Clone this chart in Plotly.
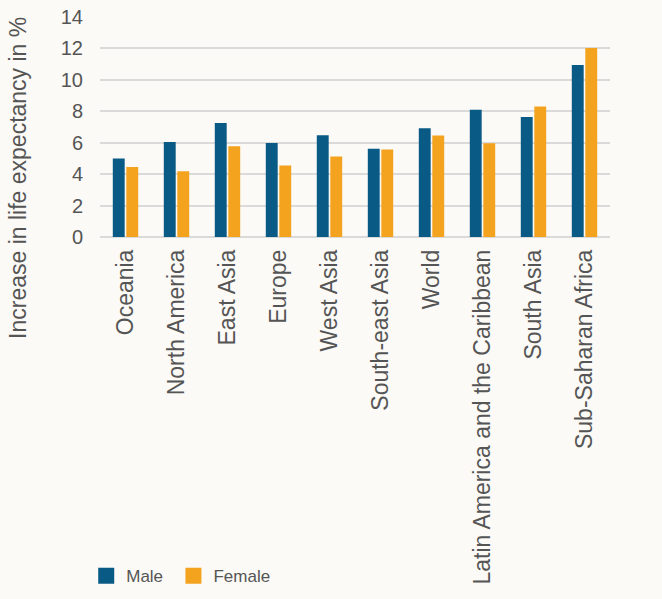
import plotly.graph_objects as go

categories = ["Oceania", "North America", "East Asia", "Europe", "West Asia",
              "South-east Asia", "World", "Latin America and the Caribbean",
              "South Asia", "Sub-Saharan Africa"]
male = [5.0, 6.05, 7.25, 5.98, 6.48, 5.62, 6.92, 8.09, 7.64, 10.95]
female = [4.45, 4.18, 5.78, 4.55, 5.13, 5.57, 6.46, 5.97, 8.30, 12.02]
y_ticks = [0, 2, 4, 6, 8, 10, 12, 14]

BLUE = "#0a5a86"
ORANGE = "#f4a31f"
BG = "#fbfaf6"
TXT = "#555555"
FONT = "Liberation Sans, Arial, sans-serif"

fig = go.Figure()
fig.add_trace(go.Bar(name="Male", x=categories, y=male, marker_color=BLUE,
                     marker_line_width=0, showlegend=False))
fig.add_trace(go.Bar(name="Female", x=categories, y=female, marker_color=ORANGE,
                     marker_line_width=0, showlegend=False))
# legend entries (square swatches)
fig.add_trace(go.Scatter(name="Male", x=[None], y=[None], mode="markers",
                         marker=dict(symbol="square", size=16, color=BLUE),
                         legend="legend"))
fig.add_trace(go.Scatter(name="Female", x=[None], y=[None], mode="markers",
                         marker=dict(symbol="square", size=16, color=ORANGE),
                         legend="legend2"))

legend_font = dict(family="Liberation Sans Narrow, Liberation Sans, Arial",
                   size=17, color=TXT)

fig.update_layout(
    width=662, height=599,
    paper_bgcolor=BG, plot_bgcolor=BG,
    margin=dict(l=100, r=52, t=17, b=362, autoexpand=False),
    barmode="group", bargap=0.47, bargroupgap=0.12,
    font=dict(family=FONT, size=16, color=TXT),
    showlegend=True,
    legend=dict(orientation="h", x=-0.027, xanchor="left", y=-1.542, yanchor="middle",
                font=legend_font, bgcolor="rgba(0,0,0,0)"),
    legend2=dict(orientation="h", x=0.144, xanchor="left", y=-1.542, yanchor="middle",
                 font=legend_font, bgcolor="rgba(0,0,0,0)"),
    xaxis=dict(tickangle=-90, showgrid=False, ticks="", showline=False,
               automargin=False,
               ticklabelstandoff=7, tickfont=dict(size=23, color=TXT)),
    yaxis=dict(range=[0, 14], tickvals=y_ticks, showgrid=True, gridcolor="#dadada",
               gridwidth=1.5, zeroline=True, zerolinecolor="#dadada", zerolinewidth=1.5,
               automargin=False,
               ticks="", ticklabelstandoff=16, tickfont=dict(size=20, color=TXT)),
)

fig.add_annotation(text="Increase in life expectancy in %", textangle=-90,
                   xref="paper", yref="paper", x=-0.161, y=0.268,
                   xanchor="center", yanchor="middle", showarrow=False,
                   font=dict(size=23, color=TXT))

fig.write_html("out.html", config={"displayModeBar": False},
               post_script="document.body.style.margin='0';"
                           "document.body.style.background='" + BG + "';")
